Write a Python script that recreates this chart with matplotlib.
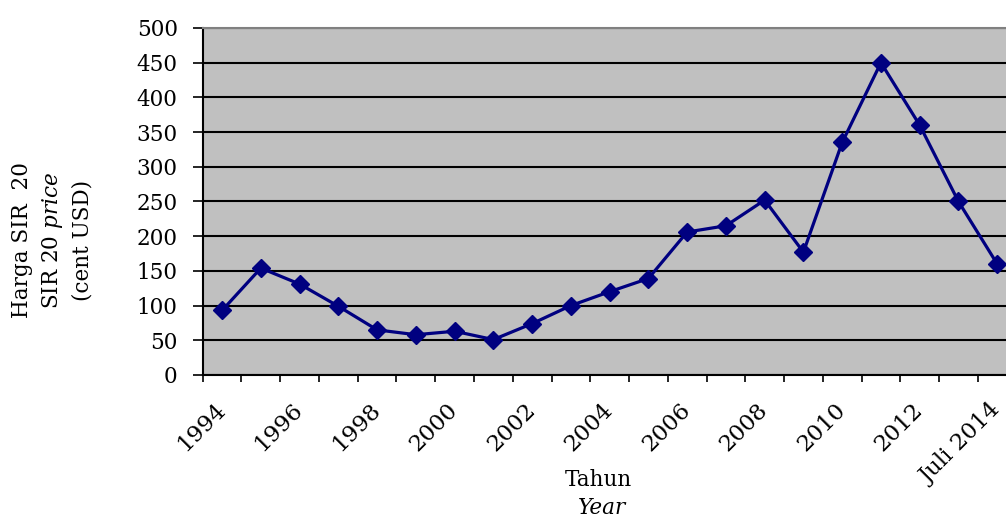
import matplotlib.pyplot as plt

plt.rcParams['font.family'] = 'DejaVu Serif'
plt.rcParams['mathtext.fontset'] = 'custom'
plt.rcParams['mathtext.rm'] = 'DejaVu Serif'
plt.rcParams['mathtext.it'] = 'DejaVu Serif:italic'

years = ['1994', '1995', '1996', '1997', '1998', '1999', '2000', '2001', '2002',
         '2003', '2004', '2005', '2006', '2007', '2008', '2009', '2010', '2011',
         '2012', '2013', 'Juli 2014']
price = [93, 154, 131, 99, 65, 58, 63, 51, 74, 100, 120, 139, 206, 215, 252,
         177, 335, 450, 360, 250, 160]
yticks = [0, 50, 100, 150, 200, 250, 300, 350, 400, 450, 500]

fig = plt.figure(figsize=(10.06, 5.19), dpi=100)
ax = fig.add_axes([0.2015, 0.2775, 0.809, 0.6686])
ax.set_facecolor('#C0C0C0')

x = list(range(len(years)))
ax.plot(x, price, color='#000080', lw=2.3, marker='D', markersize=9, zorder=3)

ax.set_xlim(-0.5, len(years) - 0.5)
ax.set_ylim(0, 500)
ax.set_yticks(yticks)
ax.yaxis.grid(True, color='black', lw=1.5)
ax.set_axisbelow(True)

ax.set_xticks(x[::2])
ax.set_xticklabels(years[::2], rotation=45, ha='right', va='center',
                   rotation_mode='anchor')
ax.set_xticks([i - 0.5 for i in range(len(years) + 1)], minor=True)
ax.tick_params(axis='x', which='major', length=0, pad=23, labelsize=16.5)
ax.tick_params(axis='x', which='minor', length=5, width=1.2, direction='out')
ax.tick_params(axis='y', length=7, width=1.2, labelsize=15.5, pad=11)

for s in ['left', 'bottom']:
    ax.spines[s].set_color('black')
    ax.spines[s].set_linewidth(1.5)
ax.spines['top'].set_color('#808080')
ax.spines['top'].set_linewidth(1.5)
ax.spines['right'].set_visible(False)

fig.text(0.022, 0.537, 'Harga SIR  20', rotation=90, ha='center', va='center', fontsize=15.5)
fig.text(0.052, 0.537, 'SIR 20 $\\mathit{price}$', rotation=90, ha='center', va='center', fontsize=15.5)
fig.text(0.082, 0.537, '(cent USD)', rotation=90, ha='center', va='center', fontsize=15.5)

fig.text(0.595, 0.075, 'Tahun', ha='center', va='center', fontsize=15.5)
fig.text(0.598, 0.022, 'Year', ha='center', va='center', fontsize=15.5, style='italic')

fig.savefig('out.png', dpi=100)
